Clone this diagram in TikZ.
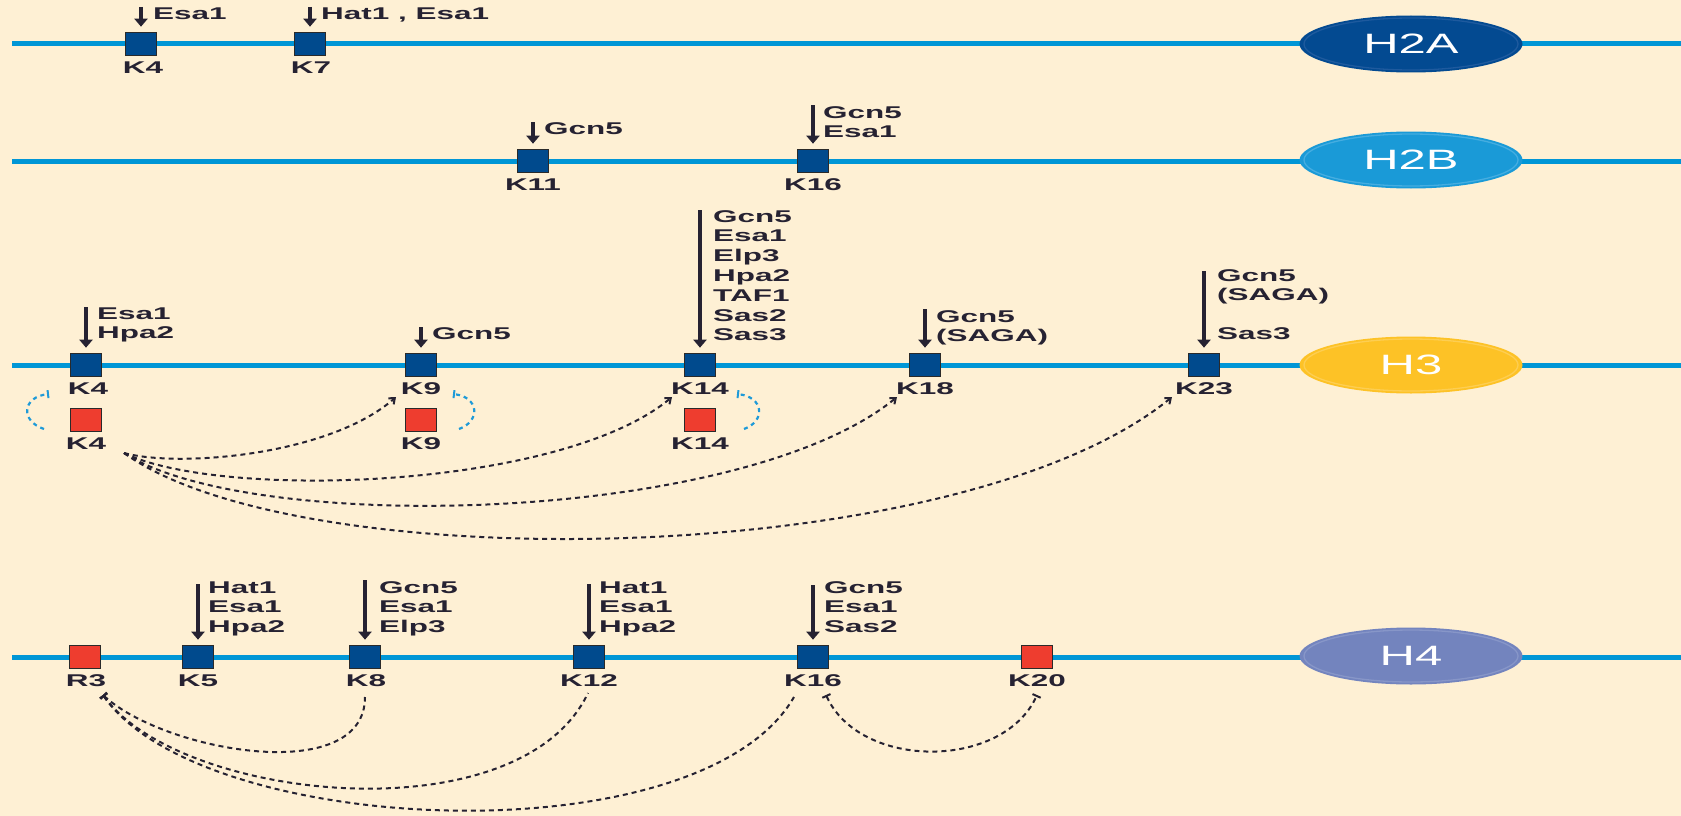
\documentclass[tikz,border=0pt]{standalone}
\usepackage{fontspec}
\newfontfamily\lblf[FakeStretch=1.85]{Liberation Sans}
\newfontfamily\hisf[FakeStretch=1.75]{Liberation Sans}
\usetikzlibrary{arrows.meta,shapes.geometric}
\definecolor{bgc}{HTML}{FEF0D4}
\definecolor{lineblue}{HTML}{0096D6}
\definecolor{kblue}{HTML}{004A8D}
\definecolor{kred}{HTML}{EE3D2F}
\definecolor{kedge}{HTML}{2A2A2A}
\definecolor{txt}{HTML}{262232}
\definecolor{hA}{HTML}{034A91}
\definecolor{hAr}{HTML}{1E5A9E}
\definecolor{hB}{HTML}{1A9AD7}
\definecolor{hBr}{HTML}{45ADE0}
\definecolor{hC}{HTML}{FDC226}
\definecolor{hCr}{HTML}{FDCE52}
\definecolor{hD}{HTML}{7384BE}
\definecolor{hDr}{HTML}{8796C8}
\definecolor{arcblue}{HTML}{1E9AD8}
\newcommand\stackl[4]{\foreach \itemtext [count=\i] in {#4}{\node[lbl,anchor=base west] (#1-\i) at ({#2},{#3+6+(\i-1)*19.8}) {\itemtext};}}
\begin{document}
\begin{tikzpicture}[x=1pt,y=-1pt,
  hline/.style={line width=5pt,draw=lineblue},
  kbox/.style={draw=kedge,line width=1.6pt,minimum width=31pt,minimum height=23pt,inner sep=0pt},
  bluek/.style={kbox,fill=kblue},
  redk/.style={kbox,fill=kred},
  lbl/.style={font=\lblf\bfseries\fontsize{17}{19}\selectfont,text=txt,inner sep=0pt},
  hat/.style={draw=txt,line width=4.2pt,-{Triangle[length=8pt,width=13pt]},shorten >=5pt},
  hist/.style={ellipse,minimum width=223pt,minimum height=57pt,inner sep=0pt,font=\hisf\fontsize{28}{30}\selectfont,text=white},
  ring/.style={line width=1.3pt},
  link/.style={draw=txt,line width=2pt,dash pattern=on 5pt off 4pt},
  act/.style={link,-{Straight Barb[length=5pt,width=8pt]}},
  inh/.style={link},
  barc/.style={draw=arcblue,line width=2.2pt,dash pattern=on 4pt off 4pt,-{Bar[width=8pt,line width=2pt]}}
]
\fill[bgc] (0,0) rectangle (1681,816);
\useasboundingbox (0,0) rectangle (1681,816);

% ---------------- H2A ----------------
\coordinate (h2a-l) at (12,44); \coordinate (h2a-r) at (1681,44);
\draw[hline] (h2a-l) -- (h2a-r);
\node[hist,fill=hA] (h2a) at (1411,44) {H2A};
\draw[ring,draw=hAr] (h2a.center) ellipse (107pt and 26pt);
\node[bluek] (h2a-k4) at (141,44) {};
\node[bluek] (h2a-k7) at (310,44) {};
\node[lbl,anchor=base] (h2a-k4-l) at (143,74) {K4};
\node[lbl,anchor=base] (h2a-k7-l) at (311,74) {K7};
\coordinate (h2a-k4-a) at (141,7); \draw[hat] (h2a-k4-a) -- (h2a-k4.north);
\coordinate (h2a-k7-a) at (310,7); \draw[hat] (h2a-k7-a) -- (h2a-k7.north);
\stackl{h2a-k4-t}{153}{14}{Esa1}
\node[lbl,anchor=base west] (h2a-k7-t) at (321,20) {Hat1 , Esa1};

% ---------------- H2B ----------------
\coordinate (h2b-l) at (12,161); \coordinate (h2b-r) at (1681,161);
\draw[hline] (h2b-l) -- (h2b-r);
\node[hist,fill=hB] (h2b) at (1411,160) {H2B};
\draw[ring,draw=hBr] (h2b.center) ellipse (107pt and 26pt);
\node[bluek] (h2b-k11) at (533,161) {};
\node[bluek] (h2b-k16) at (813,161) {};
\node[lbl,anchor=base] (h2b-k11-l) at (533,190) {K11};
\node[lbl,anchor=base] (h2b-k16-l) at (813,190) {K16};
\coordinate (h2b-k11-a) at (533,122); \draw[hat] (h2b-k11-a) -- (h2b-k11.north);
\coordinate (h2b-k16-a) at (813,105); \draw[hat] (h2b-k16-a) -- (h2b-k16.north);
\stackl{h2b-k11-t}{544}{128}{Gcn5}
\stackl{h2b-k16-t}{823}{112}{Gcn5,Esa1}

% ---------------- H3 ----------------
\coordinate (h3-l) at (12,365); \coordinate (h3-r) at (1681,365);
\draw[hline] (h3-l) -- (h3-r);
\node[hist,fill=hC] (h3) at (1411,365) {H3};
\draw[ring,draw=hCr] (h3.center) ellipse (107pt and 26pt);
\node[bluek] (h3-k4) at (86,365) {};
\node[bluek] (h3-k9) at (421,365) {};
\node[bluek] (h3-k14) at (700,365) {};
\node[bluek] (h3-k18) at (925,365) {};
\node[bluek] (h3-k23) at (1204,365) {};
\node[lbl,anchor=base] (h3-k4-l) at (88,394) {K4};
\node[lbl,anchor=base] (h3-k9-l) at (421,394) {K9};
\node[lbl,anchor=base] (h3-k14-l) at (700,394) {K14};
\node[lbl,anchor=base] (h3-k18-l) at (925,394) {K18};
\node[lbl,anchor=base] (h3-k23-l) at (1204,394) {K23};
\node[redk] (h3-r4) at (86,420) {};
\node[redk] (h3-r9) at (421,420) {};
\node[redk] (h3-r14) at (700,420) {};
\node[lbl,anchor=base] (h3-r4-l) at (86,449) {K4};
\node[lbl,anchor=base] (h3-r9-l) at (421,449) {K9};
\node[lbl,anchor=base] (h3-r14-l) at (700,449) {K14};
\coordinate (h3-k4-a) at (86,307); \draw[hat] (h3-k4-a) -- (h3-k4.north);
\coordinate (h3-k9-a) at (421,327); \draw[hat] (h3-k9-a) -- (h3-k9.north);
\coordinate (h3-k14-a) at (700,210); \draw[hat] (h3-k14-a) -- (h3-k14.north);
\coordinate (h3-k18-a) at (925,309); \draw[hat] (h3-k18-a) -- (h3-k18.north);
\coordinate (h3-k23-a) at (1204,271); \draw[hat] (h3-k23-a) -- (h3-k23.north);
\stackl{h3-k4-t}{97}{313}{Esa1,Hpa2}
\stackl{h3-k9-t}{432}{333}{Gcn5}
\stackl{h3-k14-t}{713}{216}{Gcn5,Esa1,Elp3,Hpa2,TAF1,Sas2,Sas3}
\stackl{h3-k18-t}{936}{316}{Gcn5,(SAGA)}
\stackl{h3-k23-t}{1217}{275}{Gcn5,(SAGA)}
\stackl{h3-k23-u}{1217}{333}{Sas3}
% blue self arcs
\coordinate (b4s) at (44,429); \coordinate (b4e) at (49,394);
\draw[barc] (b4s) .. controls (20,421) and (22,397) .. (b4e);
\coordinate (b9s) at (459,429); \coordinate (b9e) at (453,394);
\draw[barc] (b9s) .. controls (481,421) and (479,397) .. (b9e);
\coordinate (b14s) at (744,429); \coordinate (b14e) at (737,394);
\draw[barc] (b14s) .. controls (766,421) and (764,397) .. (b14e);
% black dashed links from K4
\coordinate (s4) at (124,453);
\coordinate (e9) at (396,397);
\coordinate (e14) at (672,397);
\coordinate (e18) at (897,397);
\coordinate (e23) at (1172,397);
\draw[act] (s4) .. controls (180,468) and (330,455) .. (e9);
\draw[act] (s4) .. controls (220,500) and (560,490) .. (e14);
\draw[act] (s4) .. controls (250,535) and (740,525) .. (e18);
\draw[act] (s4) .. controls (300,580) and (960,570) .. (e23);

% ---------------- H4 ----------------
\coordinate (h4-l) at (12,657); \coordinate (h4-r) at (1681,657);
\draw[hline] (h4-l) -- (h4-r);
\node[hist,fill=hD] (h4) at (1411,656) {H4};
\draw[ring,draw=hDr] (h4.center) ellipse (107pt and 26pt);
\node[redk] (h4-r3) at (85,657) {};
\node[bluek] (h4-k5) at (198,657) {};
\node[bluek] (h4-k8) at (365,657) {};
\node[bluek] (h4-k12) at (589,657) {};
\node[bluek] (h4-k16) at (813,657) {};
\node[redk] (h4-k20) at (1037,657) {};
\node[lbl,anchor=base] (h4-r3-l) at (86,686) {R3};
\node[lbl,anchor=base] (h4-k5-l) at (198,686) {K5};
\node[lbl,anchor=base] (h4-k8-l) at (366,686) {K8};
\node[lbl,anchor=base] (h4-k12-l) at (589,686) {K12};
\node[lbl,anchor=base] (h4-k16-l) at (813,686) {K16};
\node[lbl,anchor=base] (h4-k20-l) at (1037,686) {K20};
\coordinate (h4-k5-a) at (198,584); \draw[hat] (h4-k5-a) -- (h4-k5.north);
\coordinate (h4-k8-a) at (365,580); \draw[hat] (h4-k8-a) -- (h4-k8.north);
\coordinate (h4-k12-a) at (589,584); \draw[hat] (h4-k12-a) -- (h4-k12.north);
\coordinate (h4-k16-a) at (813,585); \draw[hat] (h4-k16-a) -- (h4-k16.north);
\stackl{h4-k5-t}{208}{587}{Hat1,Esa1,Hpa2}
\stackl{h4-k8-t}{379}{587}{Gcn5,Esa1,Elp3}
\stackl{h4-k12-t}{599}{587}{Hat1,Esa1,Hpa2}
\stackl{h4-k16-t}{824}{587}{Gcn5,Esa1,Sas2}
% inhibitory dashed links
\coordinate (r3s) at (103,695);
\coordinate (k8e) at (365,697);
\coordinate (k12e) at (588,693);
\coordinate (k16e) at (794,697);
\coordinate (k16b) at (826,695);
\coordinate (k20b) at (1037,695);
\draw[inh,{Bar[width=9pt,line width=2pt]}-] (r3s) .. controls (165,752) and (365,787) .. (k8e);
\draw[inh,{Bar[width=9pt,line width=2pt]}-] (r3s) .. controls (180,802) and (520,837) .. (k12e);
\draw[inh,{Bar[width=9pt,line width=2pt]}-] (r3s) .. controls (200,837) and (700,860) .. (k16e);
\draw[inh,{Bar[width=9pt,line width=2pt]}-{Bar[width=9pt,line width=2pt]}] (k16b) .. controls (860,770) and (1003,770) .. (k20b);
\end{tikzpicture}
\end{document}
